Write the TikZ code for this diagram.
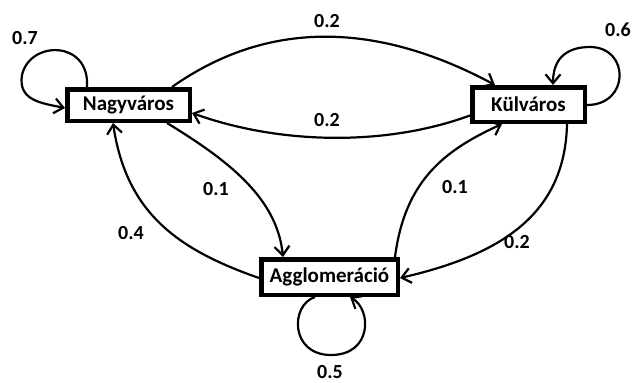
\documentclass[tikz,border=0pt]{standalone}
\usepackage{fontspec}
\setmainfont{Carlito}
\usetikzlibrary{arrows.meta,calc}

\tikzset{
  state/.style={draw, line width=4.5pt, fill=white, inner sep=0pt,
    font=\bfseries\fontsize{21}{25}\selectfont},
  trans/.style={line width=2.2pt, -{Straight Barb[length=9pt,width=15pt]}},
  prob/.style={font=\bfseries\fontsize{20}{24}\selectfont, inner sep=0pt}
}

\begin{document}
\begin{tikzpicture}[x=1pt,y=-1pt]
  \useasboundingbox (0,0) rectangle (635,383);

  % states
  \node[state, minimum width=122.5pt, minimum height=31.5pt] (nagy) at (128.5,105) {Nagyváros};
  \node[state, minimum width=112.5pt, minimum height=34.5pt] (kul)  at (528.5,104.5) {Külváros};
  \node[state, minimum width=136.5pt, minimum height=35.5pt] (agg)  at (329.5,277) {Agglomeráció};

  % Nagyváros -> Külváros (upper arc)
  \draw[trans] ($(nagy.north)+(43.5,0)$) .. controls (274,15) and (385,26) .. ($(kul.north)+(-33.5,0)$);
  % Külváros -> Nagyváros (lower arc)
  \draw[trans] ($(kul.west)+(0,11)$) .. controls (384,147) and (278,144) .. ($(nagy.east)+(0,8)$);

  % self loops
  \draw[trans] ($(nagy.north)+(-41.5,0)$) .. controls (90,40) and (30,40) .. (22,75)
               .. controls (18,100) and (40,103) .. ($(nagy.west)+(0,3)$);
  \draw[trans] ($(kul.east)+(0,0.5)$) .. controls (630,105) and (630,47) .. (590,47)
               .. controls (565,47) and (553,60) .. ($(kul.north)+(24.5,0)$);
  \draw[trans] ($(agg.south)+(-14.5,0)$) .. controls (290,305) and (290,355) .. (331,355)
               .. controls (372,355) and (372,310) .. ($(agg.south)+(20.5,0)$);

  % Nagyváros <-> Agglomeráció
  \draw[trans] ($(nagy.south)+(38.5,0)$) .. controls (226.5,159.4) and (277,197) .. ($(agg.north)+(-46.5,0)$);
  \draw[trans] ($(agg.west)+(0,1)$) .. controls (179,250) and (126.5,214) .. ($(nagy.south)+(-15.5,0)$);

  % Külváros <-> Agglomeráció
  \draw[trans] ($(agg.north)+(65.5,0)$) .. controls (405,180) and (445,150) .. ($(kul.south)+(-26.5,0)$);
  \draw[trans] ($(kul.south)+(38.5,0)$) .. controls (565,215) and (500,255) .. ($(agg.east)+(0,1)$);

  % transition probabilities
  \node[prob] (p77) at (25,38)   {0.7};
  \node[prob] (p12) at (327,21)  {0.2};
  \node[prob] (p66) at (618,30)  {0.6};
  \node[prob] (p21) at (327,120) {0.2};
  \node[prob] (p13) at (216,189) {0.1};
  \node[prob] (p31) at (131,233) {0.4};
  \node[prob] (p32) at (455,187) {0.1};
  \node[prob] (p23) at (517,242) {0.2};
  \node[prob] (p33) at (330,372) {0.5};
\end{tikzpicture}
\end{document}
